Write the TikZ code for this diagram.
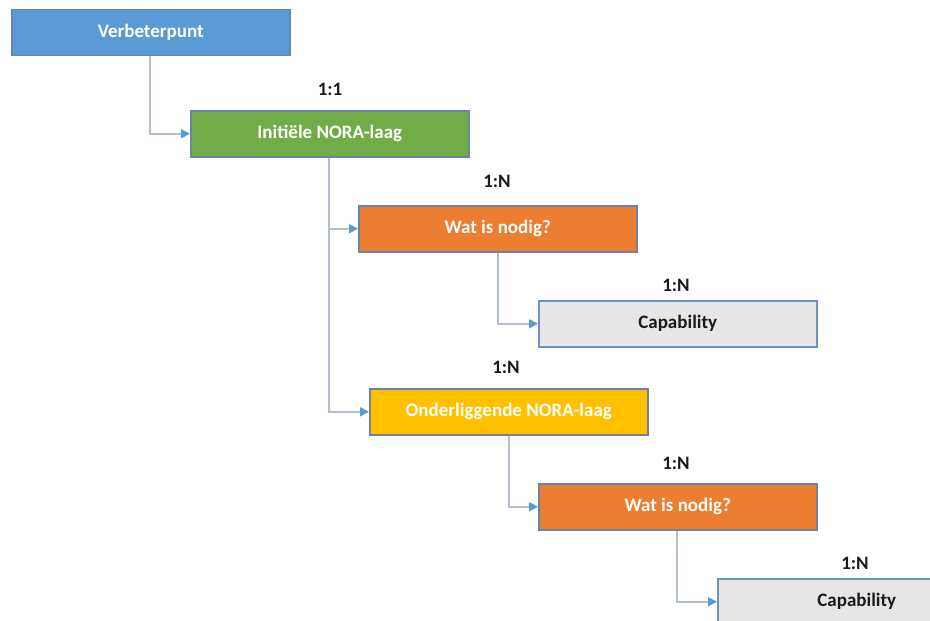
\documentclass[tikz,border=0pt]{standalone}
\usepackage{fontspec}
\setmainfont{Carlito}
\usetikzlibrary{arrows.meta}
\definecolor{cblue}{HTML}{5B9BD5}
\definecolor{cgreen}{HTML}{70AD47}
\definecolor{corange}{HTML}{ED7D31}
\definecolor{cgold}{HTML}{FFC000}
\definecolor{cgrey}{HTML}{E7E6E6}
\definecolor{cborder}{HTML}{6A84A6}
\definecolor{ccapborder}{HTML}{6C93C4}
\definecolor{cline}{HTML}{B4C0D0}
\definecolor{ctext}{HTML}{1A1A1A}
\tikzset{
  box/.style={draw=cborder, line width=1.5pt, minimum width=278pt, minimum height=46pt,
    inner sep=0pt, font=\fontsize{19}{22}\selectfont\bfseries, text=white},
  capbox/.style={box, draw=ccapborder, fill=cgrey, text=ctext},
  lab/.style={font=\fontsize{19}{22}\selectfont\bfseries, text=ctext, inner sep=0pt},
  conn/.style={draw=cline, line width=1.8pt, -{Triangle[length=9pt,width=9pt,color=cblue]}}
}
\begin{document}
\begin{tikzpicture}[x=1pt,y=-1pt]
\useasboundingbox (0,0) rectangle (930,621);
\node[box, fill=cblue, anchor=north west] (verb) at (11,8.5) {Verbeterpunt};
\node[box, fill=cgreen, anchor=north west] (init) at (190,110) {Initiële NORA-laag};
\node[box, fill=corange, anchor=north west] (wat1) at (358,205) {Wat is nodig?};
\node[capbox, anchor=north west] (cap1) at (538,300) {Capability};
\node[box, fill=cgold, anchor=north west] (onder) at (369,388) {Onderliggende NORA-laag};
\node[box, fill=corange, anchor=north west] (wat2) at (538,483) {Wat is nodig?};
\node[capbox, anchor=north west] (cap2) at (717,578) {Capability};

\node[lab] (l1) at (330,89) {1:1};
\node[lab] (l2) at (497,181) {1:N};
\node[lab] (l3) at (676,285) {1:N};
\node[lab] (l4) at (506,367) {1:N};
\node[lab] (l5) at (676,463) {1:N};
\node[lab] (l6) at (855,563) {1:N};

\draw[conn] (verb.south west -| 150,0) |- (init.west);
\draw[conn] (init.south west -| 329,0) |- (wat1.west);
\draw[conn] (init.south west -| 329,0) |- (onder.west);
\draw[conn] (wat1.south west -| 498,0) |- (cap1.west);
\draw[conn] (onder.south west -| 509,0) |- (wat2.west);
\draw[conn] (wat2.south west -| 677,0) |- (cap2.west);
\end{tikzpicture}
\end{document}
